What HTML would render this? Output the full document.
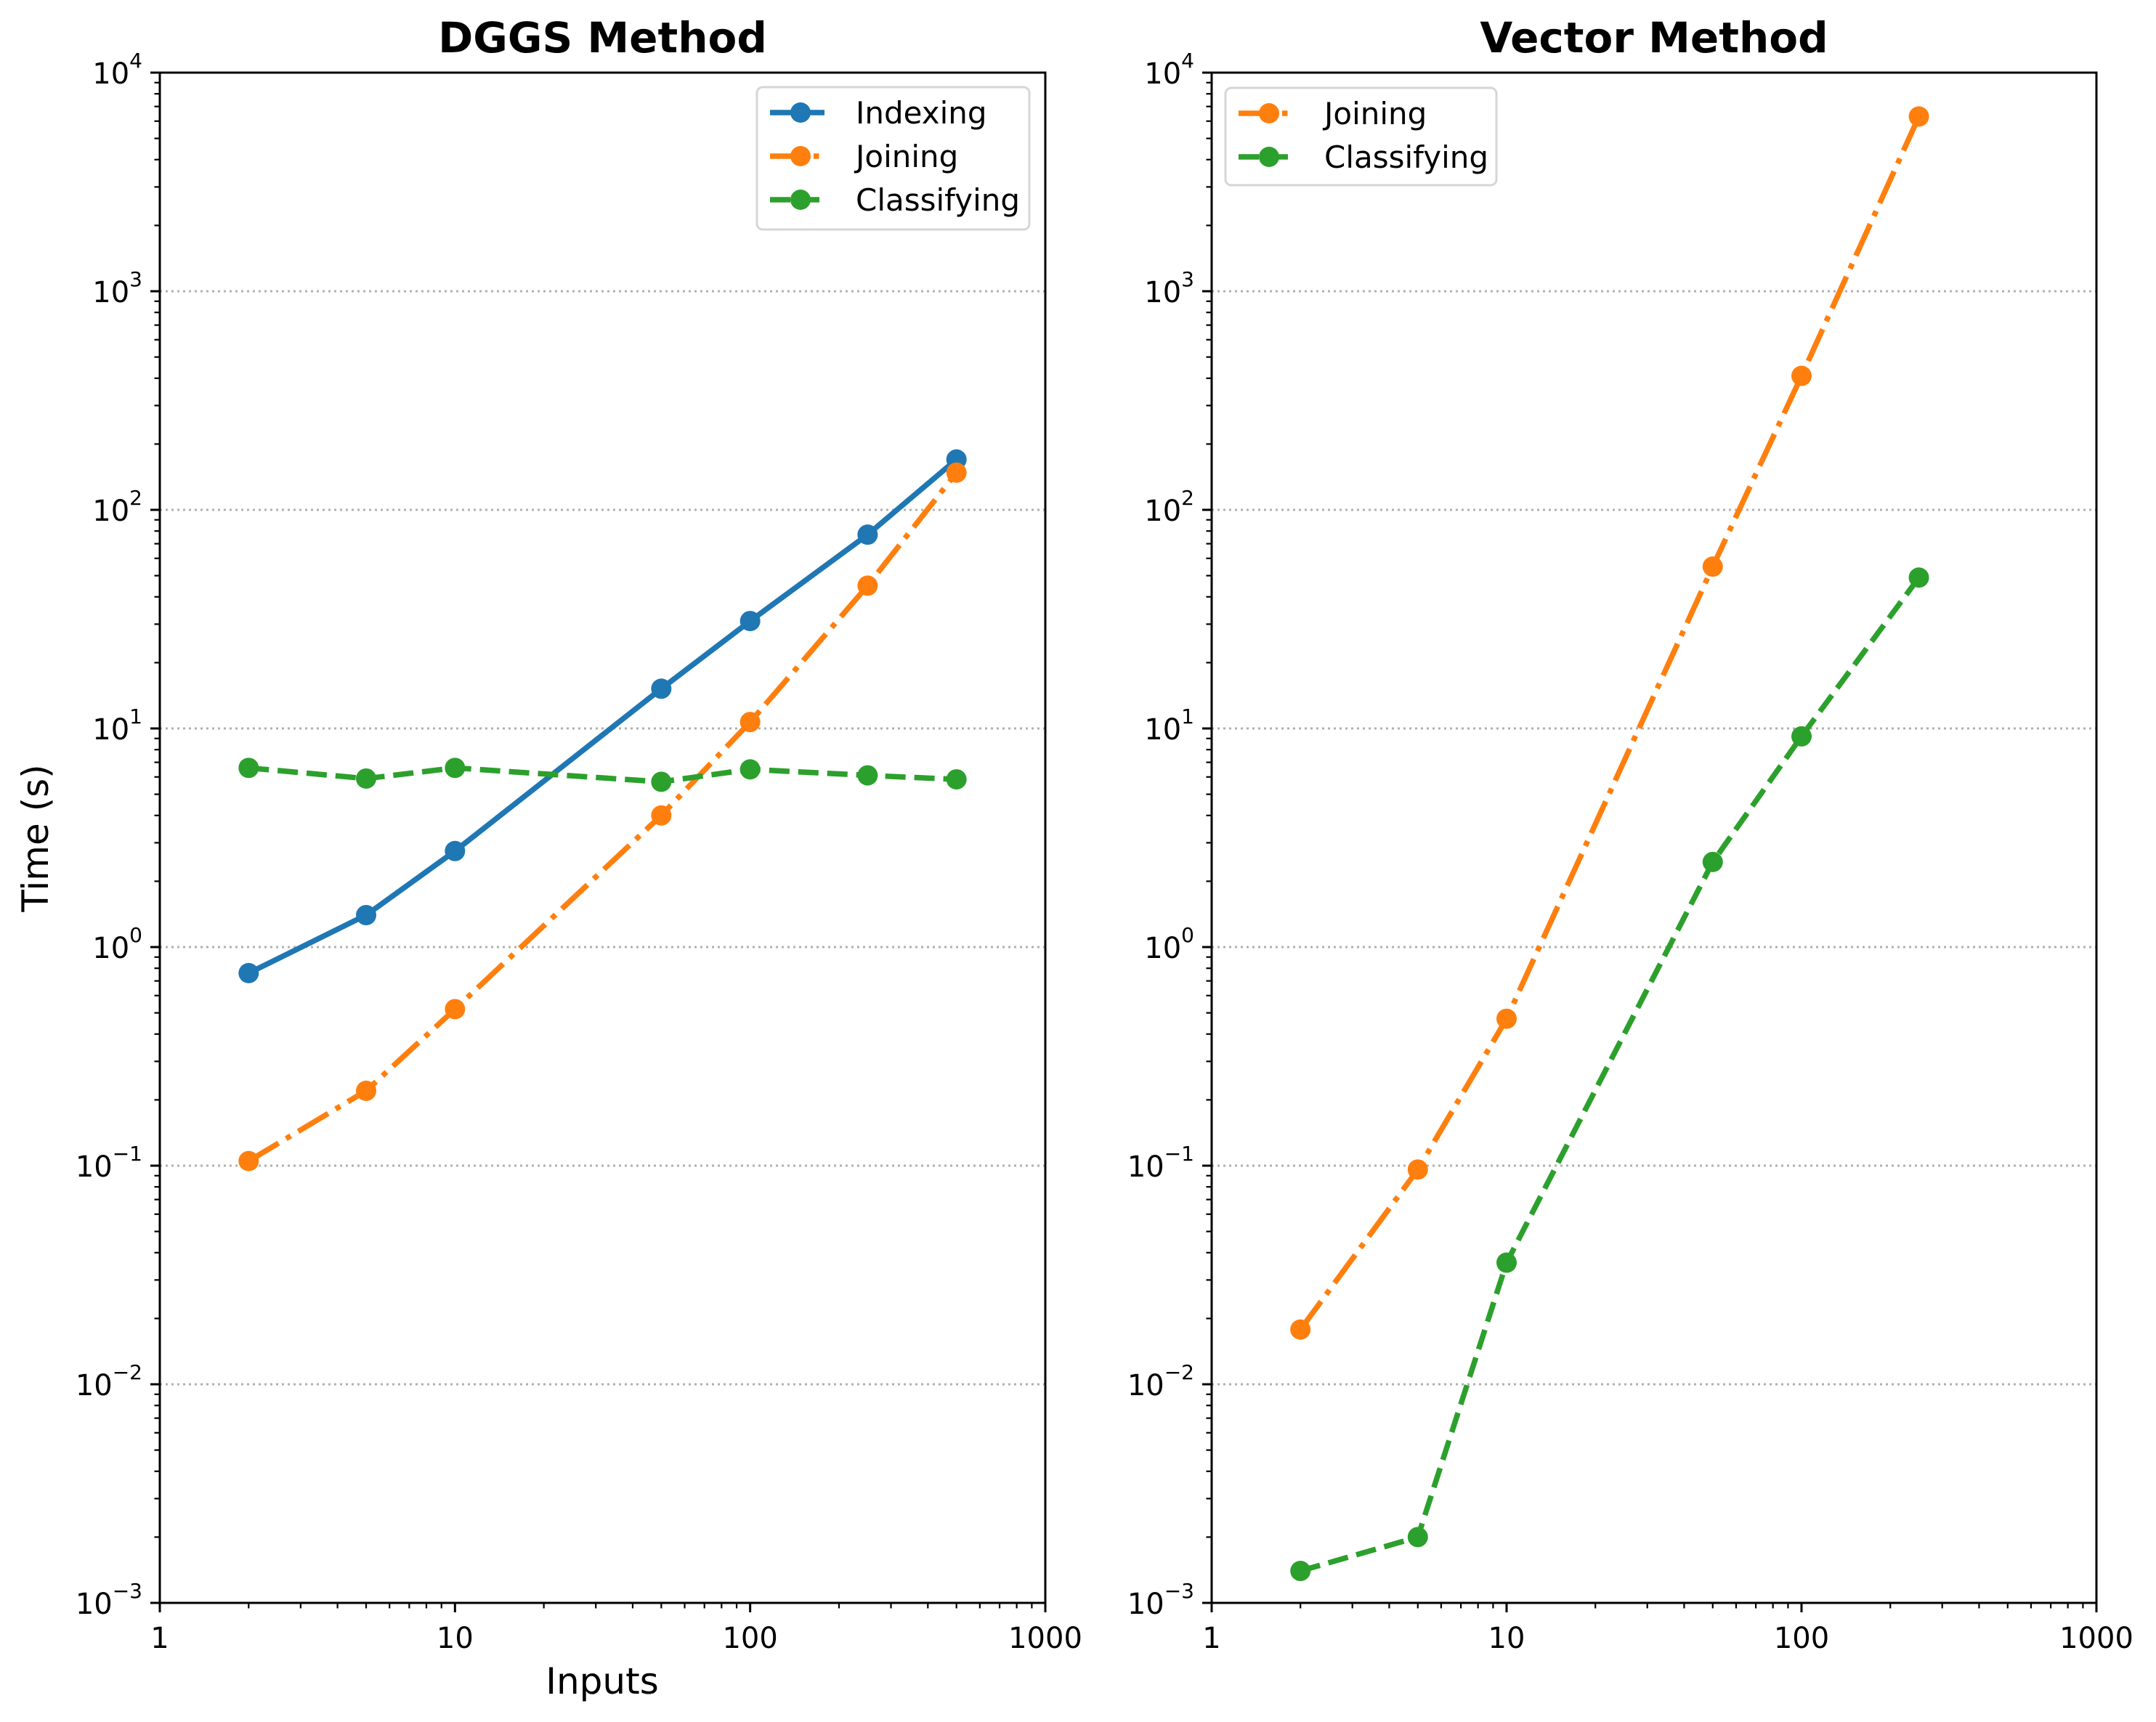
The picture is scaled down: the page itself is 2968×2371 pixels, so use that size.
<!DOCTYPE html>
<html><head><meta charset="utf-8">
<style>
html,body{margin:0;padding:0;background:#fff;}
svg{display:block;font-family:"DejaVu Sans","Liberation Sans",sans-serif;}
</style></head>
<body>
<svg id="chart" xmlns="http://www.w3.org/2000/svg" width="2968" height="2371" viewBox="0 0 2968 2371"></svg>
<script>
const dggsInputs = [2, 5, 10, 50, 100, 250, 500];
const dggsIndexing = [0.76, 1.4, 2.75, 15.2, 31, 77, 170];
const dggsJoining = [0.105, 0.22, 0.52, 4.0, 10.7, 45, 148];
const dggsClassifying = [6.6, 5.9, 6.6, 5.7, 6.5, 6.1, 5.85];
const vecInputs = [2, 5, 10, 50, 100, 250];
const vecJoining = [0.0178, 0.096, 0.47, 55, 410, 6300];
const vecClassifying = [0.0014, 0.002, 0.036, 2.45, 9.2, 49];
const yExps = [-3, -2, -1, 0, 1, 2, 3, 4];
const xTickLabels = ["1", "10", "100", "1000"];

const NS = "http://www.w3.org/2000/svg";
const svg = document.getElementById("chart");
function mk(tag, attrs, parent) {
  const e = document.createElementNS(NS, tag);
  for (const k in attrs) e.setAttribute(k, attrs[k]);
  (parent || svg).appendChild(e);
  return e;
}
const TOP = 100, BOT = 2207;
function yScale(v) { return BOT - (Math.log10(v) + 3) / 7 * (BOT - TOP); }
const COLORS = { blue: "#1f77b4", orange: "#ff7f0e", green: "#2ca02c" };
const DASH = { solid: "", dashdot: "48 12 7.5 12", dashed: "28 12" };

function drawPanel(L, R, title, name, series, legendBox) {
  const g = mk("g", {});
  
  
  const xScale = v => L + Math.log10(v) / 3 * (R - L);
  yExps.forEach(e => {
    if (e === -3 || e === 4) return;
    const gl = mk("line", { x1: L, x2: R, y1: yScale(Math.pow(10, e)), y2: yScale(Math.pow(10, e)), stroke: "#b0b0b0", "stroke-width": 3, "stroke-dasharray": "3 5" }, g);
    
    
  });
  yExps.forEach(e => {
    const y = yScale(Math.pow(10, e));
    mk("line", { x1: L - 13, x2: L, y1: y, y2: y, stroke: "#000", "stroke-width": 3 }, g);
    const t = mk("text", { x: L - 24, y: y + 15, "text-anchor": "end", "font-size": 40 }, g);
    
    
    const s1 = mk("tspan", {}, t); s1.textContent = "10";
    const s2 = mk("tspan", { dy: -22, "font-size": 28 }, t); s2.textContent = (e < 0 ? "\u2212" : "") + Math.abs(e);
    if (e < 4) for (let m = 2; m <= 9; m++) {
      const ym = yScale(m * Math.pow(10, e));
      mk("line", { x1: L - 7.5, x2: L, y1: ym, y2: ym, stroke: "#000", "stroke-width": 2.2 }, g);
    }
  });
  xTickLabels.forEach((lab, i) => {
    const v = Math.pow(10, i), x = xScale(v);
    mk("line", { x1: x, x2: x, y1: BOT, y2: BOT + 13, stroke: "#000", "stroke-width": 3 }, g);
    const t = mk("text", { x: x, y: BOT + 62, "text-anchor": "middle", "font-size": 40 }, g);
    t.textContent = lab;
    
    
    if (i < 3) for (let m = 2; m <= 9; m++) {
      const xm = xScale(m * v);
      mk("line", { x1: xm, x2: xm, y1: BOT, y2: BOT + 7.5, stroke: "#000", "stroke-width": 2.2 }, g);
    }
  });
  series.forEach(s => {
    const sg = mk("g", {}, g);
    
    
    const pts = s.xs.map((x, i) => xScale(x).toFixed(1) + "," + yScale(s.ys[i]).toFixed(1)).join(" ");
    mk("polyline", { points: pts, fill: "none", stroke: s.color, "stroke-width": 7.5, "stroke-dasharray": s.dash, "stroke-linejoin": "round" }, sg);
    s.xs.forEach((x, i) => {
      const c = mk("circle", { cx: xScale(x), cy: yScale(s.ys[i]), r: 14, fill: s.color }, sg);
      
      
    });
  });
  mk("rect", { x: L, y: TOP, width: R - L, height: BOT - TOP, fill: "none", stroke: "#000", "stroke-width": 3 }, g);
  const tt = mk("text", { x: (L + R) / 2, y: 72, "text-anchor": "middle", "font-size": 58, "font-weight": "bold" }, g);
  tt.textContent = title;
  
  
  const lg = mk("g", {}, g);
  
  
  mk("rect", { x: legendBox.x, y: legendBox.y, width: legendBox.w, height: legendBox.h, rx: 8, fill: "#fff", "fill-opacity": 0.8, stroke: "#d6d6d6", "stroke-width": 3 }, lg);
  series.forEach((s, i) => {
    const y = legendBox.y + 35 + i * 60;
    const le = mk("g", {}, lg);
    
    
    const x0 = legendBox.x + 18;
    mk("line", { x1: x0, x2: x0 + 75, y1: y, y2: y, stroke: s.color, "stroke-width": 7.5, "stroke-dasharray": s.dash }, le);
    mk("circle", { cx: x0 + 42, cy: y, r: 14, fill: s.color }, le);
    const t = mk("text", { x: x0 + 118, y: y + 15, "font-size": 42 }, le);
    t.textContent = s.label;
  });
}

drawPanel(220, 1439, "DGGS Method", "dggs-panel", [
  { name: "indexing-series", label: "Indexing", xs: dggsInputs, ys: dggsIndexing, color: COLORS.blue, dash: DASH.solid },
  { name: "joining-series", label: "Joining", xs: dggsInputs, ys: dggsJoining, color: COLORS.orange, dash: DASH.dashdot },
  { name: "classifying-series", label: "Classifying", xs: dggsInputs, ys: dggsClassifying, color: COLORS.green, dash: DASH.dashed }
], { x: 1042, y: 120, w: 375, h: 196 });

drawPanel(1668, 2886, "Vector Method", "vector-panel", [
  { name: "vector-joining-series", label: "Joining", xs: vecInputs, ys: vecJoining, color: COLORS.orange, dash: DASH.dashdot },
  { name: "vector-classifying-series", label: "Classifying", xs: vecInputs, ys: vecClassifying, color: COLORS.green, dash: DASH.dashed }
], { x: 1687, y: 121, w: 373, h: 134 });

const yl = mk("text", { x: 0, y: 0, "text-anchor": "middle", "font-size": 50, transform: "translate(66,1154) rotate(-90)" });
yl.textContent = "Time (s)";


const xl = mk("text", { x: 829, y: 2332, "text-anchor": "middle", "font-size": 50 });
xl.textContent = "Inputs";


</script>
</body></html>
